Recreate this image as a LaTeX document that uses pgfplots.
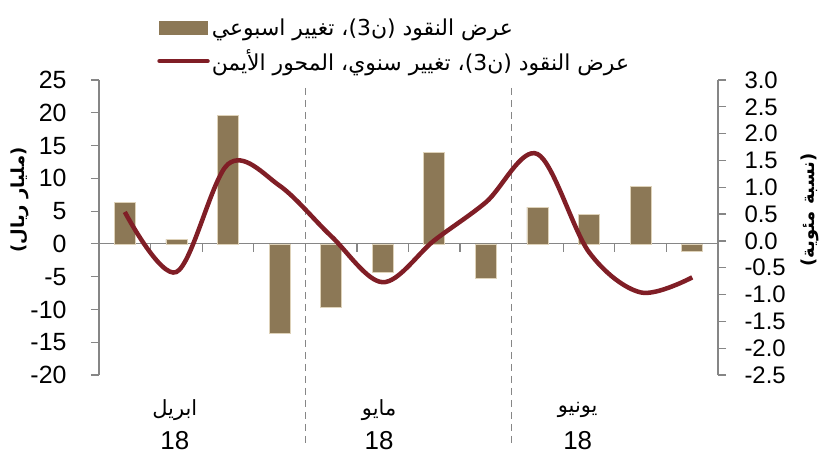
\documentclass[border=0pt]{standalone}
\usepackage{fontspec}
\usepackage{pgfplots}
\pgfplotsset{compat=1.18}
\setmainfont{Liberation Sans}
\newfontfamily\arabicfont[Script=Arabic]{DejaVu Sans}
\TeXXeTstate=1
\definecolor{barc}{RGB}{140,120,86}
\definecolor{baredge}{RGB}{222,210,185}
\definecolor{linec}{RGB}{128,30,38}
\definecolor{axg}{RGB}{134,134,134}
\begin{document}
\begin{tikzpicture}
\useasboundingbox (-99bp,-81bp) rectangle (724bp,375bp);
\begin{axis}[
  at={(0,0)}, anchor=south west,
  scale only axis, width=619bp, height=295bp,
  xmin=0.5, xmax=12.5, ymin=-20, ymax=25,
  axis x line=middle, axis y line=left,
  axis line style={axg, line width=1.2bp, -},
  xtick={0.5,1.5,2.5,3.5,4.5,5.5,6.5,7.5,8.5,9.5,10.5,11.5,12.5},
  xticklabels={},
  ytick={-20,-15,-10,-5,0,5,10,15,20,25},
  tick align=outside, major tick length=8bp,
  tick style={axg, line width=1.2bp},
  /pgf/number format/assume math mode=true,
  yticklabel style={font=\fontsize{25}{25}\selectfont, xshift=-21bp},
  ylabel={\arabicfont\bfseries\beginR (مليار ريال)\endR},
  ylabel style={at={(axis description cs:-0.128,0.593)}, anchor=center, font=\fontsize{18}{18}\selectfont},
  clip=false,
  legend style={at={(axis description cs:0.089,1.222)}, anchor=north west, draw=none, fill=none,
    font=\fontsize{22}{22}\selectfont, row sep=9bp,
    /tikz/every even column/.append style={column sep=2bp}},
  legend cell align=left,
]
\addplot[ybar, bar width=21bp, fill=barc, draw=baredge, line width=0.6bp,
  legend image code/.code={\fill[barc] (0bp,-6.5bp) rectangle (48bp,6.5bp);}]
  coordinates {(1,6.3) (2,0.7) (3,19.6) (4,-13.7) (5,-9.6) (6,-4.3) (7,14.0) (8,-5.2) (9,5.6) (10,4.5) (11,8.8) (12,-1.2)};
\addlegendentry{\arabicfont\beginR عرض النقود (ن3)، تغيير اسبوعي\endR}
\addlegendimage{linec,
  legend image code/.code={\draw[linec, line width=4.5bp, line cap=round] (0bp,0bp) -- (48bp,0bp);}}
\addlegendentry{\arabicfont\beginR عرض النقود (ن3)، تغيير سنوي، المحور الأيمن\endR}
\draw[axg, line width=1.5bp, dash pattern=on 7bp off 5bp] (axis cs:4.5,23.8) -- (axis cs:4.5,-31);
\draw[axg, line width=1.5bp, dash pattern=on 7bp off 5bp] (axis cs:8.5,23.8) -- (axis cs:8.5,-31);
\node[font=\fontsize{21}{21}\selectfont] at (axis cs:1.97,-25.3) {\arabicfont\beginR ابريل\endR};
\node[font=\fontsize{21}{21}\selectfont] at (axis cs:5.93,-25.3) {\arabicfont\beginR مايو\endR};
\node[font=\fontsize{21}{21}\selectfont] at (axis cs:9.78,-25.3) {\arabicfont\beginR يونيو\endR};
\node[font=\fontsize{26}{26}\selectfont] at (axis cs:1.97,-30.0) {18};
\node[font=\fontsize{26}{26}\selectfont] at (axis cs:5.93,-30.0) {18};
\node[font=\fontsize{26}{26}\selectfont] at (axis cs:9.78,-30.0) {18};
\end{axis}
\begin{axis}[
  at={(0,0)}, anchor=south west,
  scale only axis, width=619bp, height=295bp,
  xmin=0.5, xmax=12.5, ymin=-2.5, ymax=3,
  axis x line=none, axis y line=right,
  axis line style={axg, line width=1.2bp, -},
  ytick={-2.5,-2,-1.5,-1,-0.5,0,0.5,1,1.5,2,2.5,3},
  tick align=outside, major tick length=8bp,
  tick style={axg, line width=1.2bp},
  /pgf/number format/assume math mode=true,
  yticklabel style={font=\fontsize{24}{24}\selectfont, xshift=15bp,
    /pgf/number format/.cd, fixed, fixed zerofill, precision=1},
  ylabel={\arabicfont\bfseries\beginR (نسبة مئوية)\endR},
  ylabel style={at={(axis description cs:1.148,0.559)}, anchor=center, font=\fontsize{18}{18}\selectfont},
  clip=false,
]
\addplot[linec, line width=4.5bp, smooth, tension=0.55]
  coordinates {(1,0.54) (2,-0.58) (3,1.43) (4,1.03) (5,0.09) (6,-0.77) (7,0.01) (8,0.72) (9,1.62) (10,-0.21) (11,-0.96) (12,-0.68)};
\end{axis}
\end{tikzpicture}
\end{document}
